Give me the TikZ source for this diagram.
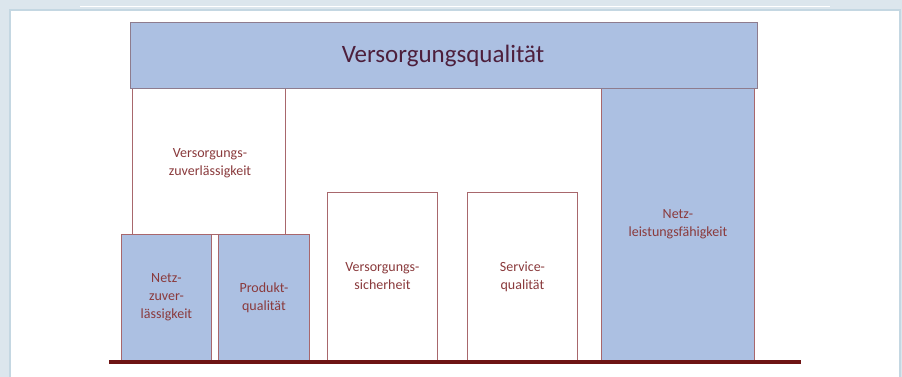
\documentclass[tikz,border=0pt]{standalone}
\usepackage{fontspec}
\setmainfont{Carlito}
\definecolor{frame}{HTML}{DCE6ED}
\definecolor{panelborder}{HTML}{C4D7E2}
\definecolor{boxblue}{HTML}{ACC0E2}
\definecolor{boxline}{HTML}{A8676C}
\definecolor{bannerline}{HTML}{8E7C8E}
\definecolor{labelred}{HTML}{8A3A3C}
\definecolor{titlecol}{HTML}{4D1F3C}
\definecolor{groundred}{HTML}{6E1414}
\tikzset{
  pillar/.style={draw=boxline, line width=0.9pt, rectangle, inner sep=0pt, anchor=north west},
  bluepillar/.style={pillar, fill=boxblue},
  whitepillar/.style={pillar, fill=white},
  lbl/.style={text=labelred, font=\fontsize{14}{18}\selectfont, align=center, inner sep=0pt},
}
\begin{document}
\begin{tikzpicture}[x=1pt,y=-1pt]
\useasboundingbox (0,0) rectangle (902,377);
% outer frame and white panel
\fill[frame] (0,0) rectangle (902,377);
\draw[white, line width=1pt] (80,7) -- (830,7);
\fill[white] (10,10) rectangle (900,377);
\draw[panelborder, line width=1.2pt] (10,377) -- (10,10) -- (900,10) -- (900,377);

% Versorgungszuverlaessigkeit (open frame)
\node[whitepillar, minimum width=153pt, minimum height=146pt] (vz) at (132,88) {};
\node[lbl] (vzt) at (210,163) {Versorgungs-\\zuverlässigkeit};

% small blue boxes
\node[bluepillar, minimum width=90pt, minimum height=126pt] (nz) at (121,234) {};
\node[lbl] at (nz.center) {Netz-\\zuver-\\lässigkeit};
\node[bluepillar, minimum width=91pt, minimum height=126pt] (pq) at (218,234) {};
\node[lbl] at (pq.center) {Produkt-\\qualität};

% white boxes
\node[whitepillar, minimum width=110pt, minimum height=168pt] (vs) at (327,192) {};
\node[lbl] at (vs.center) {Versorgungs-\\sicherheit};
\node[whitepillar, minimum width=110pt, minimum height=168pt] (sq) at (467,192) {};
\node[lbl] at (sq.center) {Service-\\qualität};

% Netzleistungsfaehigkeit
\node[bluepillar, minimum width=153pt, minimum height=272pt] (nl) at (601,88) {};
\node[lbl] at (nl.center) {Netz-\\leistungsfähigkeit};

% banner
\node[draw=bannerline, fill=boxblue, line width=1pt, rectangle, inner sep=0pt, anchor=north west,
      minimum width=627pt, minimum height=66pt] (vq) at (129.5,22) {};
\node[text=titlecol, font=\fontsize{25}{28}\selectfont, inner sep=0pt] at (443,56) {Versorgungsqualität};

% base line
\coordinate (bl) at (109,362);
\coordinate (br) at (801,362);
\draw[groundred, line width=3.5pt] (bl) -- (br);
\end{tikzpicture}
\end{document}
